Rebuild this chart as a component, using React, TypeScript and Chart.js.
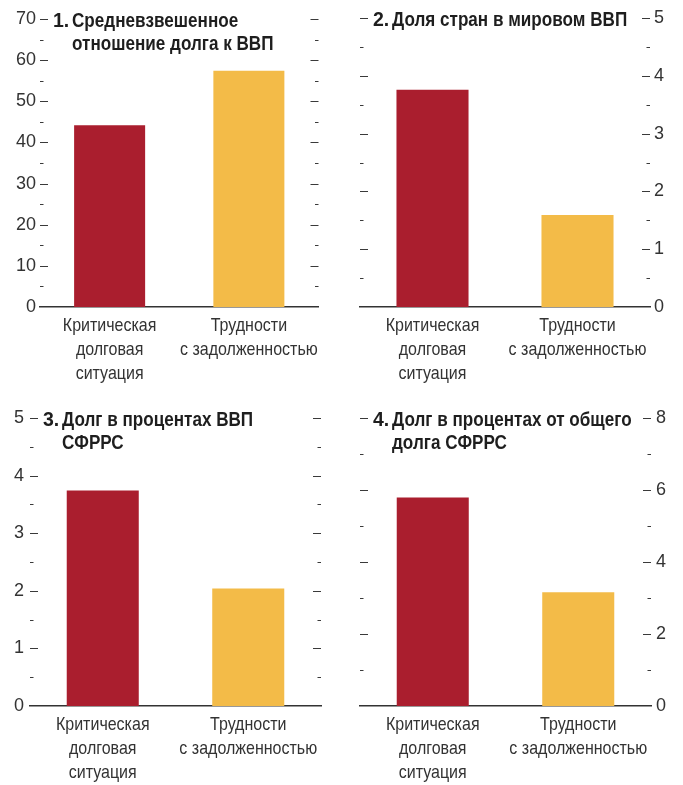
import { useEffect, useRef } from 'react';
import { Chart, registerables } from 'chart.js';

Chart.register(...registerables);

// Category labels (multi-line) shared by all four panels
const categories: string[][] = [
  ['Критическая', 'долговая', 'ситуация'],
  ['Трудности', 'с задолженностью'],
];

// Panel values
const weightedDebtToGdp = [44.2, 57.4];
const shareOfWorldGdp = [3.76, 1.59];
const debtPctOfGdp = [3.74, 2.04];
const debtPctOfTotal = [5.79, 3.16];

// Panel titles: number prefix + text lines
const title1 = ['1.', 'Средневзвешенное', 'отношение долга к ВВП'];
const title2 = ['2.', 'Доля стран в мировом ВВП'];
const title3 = ['3.', 'Долг в процентах ВВП', 'СФРРС'];
const title4 = ['4.', 'Долг в процентах от общего', 'долга СФРРС'];

// Axis ranges: [max, major step, minor step]
const axis1 = [70, 10, 5];
const axis2 = [5, 1, 0.5];
const axis3 = [5, 1, 0.5];
const axis4 = [8, 2, 1];

const barColors = ['#AA1E2E', '#F3BB48'];
const FONT = "'Liberation Sans', Arial, sans-serif";
const INK = '#333333';
const TITLE_K = 0.877; // horizontal condensing of bold titles
const LABEL_K = 0.865; // horizontal condensing of category labels

type Panel = {
  title: string[];
  values: number[];
  axis: number[];
  labelSide: 'left' | 'right';
  labelPad: number;
  box: { x: number; y: number; w: number; h: number };
  area: { left: number; right: number; top: number; bottom: number };
  catPct: number;
};

const panels: Panel[] = [
  {
    title: title1, values: weightedDebtToGdp, axis: axis1, labelSide: 'left', labelPad: 4,
    box: { x: 0, y: 0, w: 341, h: 392 },
    area: { left: 40, right: 321, top: 19, bottom: 307 },
    catPct: 0.51,
  },
  {
    title: title2, values: shareOfWorldGdp, axis: axis2, labelSide: 'right', labelPad: 4,
    box: { x: 341, y: 0, w: 342, h: 392 },
    area: { left: 19, right: 309, top: 18, bottom: 307 },
    catPct: 0.497,
  },
  {
    title: title3, values: debtPctOfGdp, axis: axis3, labelSide: 'left', labelPad: 6,
    box: { x: 0, y: 392, w: 341, h: 393 },
    area: { left: 30, right: 321, top: 26, bottom: 314 },
    catPct: 0.495,
  },
  {
    title: title4, values: debtPctOfTotal, axis: axis4, labelSide: 'right', labelPad: 5,
    box: { x: 341, y: 392, w: 342, h: 393 },
    area: { left: 19, right: 310, top: 26, bottom: 314 },
    catPct: 0.495,
  },
];

// Condensed-type look: text that is not a plain number is squeezed horizontally
// around its anchor point, so alignment is preserved.
function condenseText(ctx: CanvasRenderingContext2D) {
  const base = ctx.fillText.bind(ctx);
  (ctx as any).fillText = (text: string, x: number, y: number, maxWidth?: number) => {
    const s = String(text);
    let k = 1;
    if (!/^[\d.,\s-]*$/.test(s)) k = /bold/.test(ctx.font) ? TITLE_K : LABEL_K;
    if (k === 1) {
      if (maxWidth === undefined) base(s, x, y);
      else base(s, x, y, maxWidth);
      return;
    }
    ctx.save();
    ctx.translate(x, y);
    ctx.scale(k, 1);
    base(s, 0, 0);
    ctx.restore();
  };
}

// Draws the short tick dashes on both inner edges and the bold panel title
const panelDecor = {
  id: 'panelDecor',
  afterDraw(chart: any, _args: any, opts: any) {
    const { ctx, chartArea } = chart;
    const y = chart.scales.y;
    const [max, major, minor] = opts.axis as number[];
    ctx.save();
    ctx.strokeStyle = '#3a3a3a';
    ctx.lineWidth = 1.2;
    for (let v = minor; v <= max + 1e-9; v += minor) {
      const isMajor = Math.abs(v / major - Math.round(v / major)) < 1e-6;
      const len = isMajor ? 8 : 3.5;
      const py = Math.round(y.getPixelForValue(v)) + 0.5;
      ctx.beginPath();
      ctx.moveTo(chartArea.left, py);
      ctx.lineTo(chartArea.left + len, py);
      ctx.moveTo(chartArea.right - len, py);
      ctx.lineTo(chartArea.right, py);
      ctx.stroke();
    }
    const [num, ...lines] = opts.title as string[];
    ctx.font = `bold 19.5px ${FONT}`;
    ctx.fillStyle = '#1e1e1e';
    ctx.textBaseline = 'alphabetic';
    ctx.textAlign = 'left';
    const x0 = chartArea.left + 13;
    const indent = ctx.measureText(num + ' ').width * TITLE_K;
    const base = chartArea.top + 7.5;
    ctx.fillText(num, x0, base);
    lines.forEach((line, i) => {
      ctx.fillText(line, x0 + indent, base + i * 23.5);
    });
    ctx.restore();
  },
};

function PanelChart({ panel }: { panel: Panel }) {
  const ref = useRef<HTMLCanvasElement>(null);
  useEffect(() => {
    if (!ref.current) return;
    const ctx = ref.current.getContext('2d');
    if (!ctx) return;
    condenseText(ctx);
    const { box, area, axis, labelSide } = panel;
    const leftLabels = labelSide === 'left';
    const chart = new Chart(ctx, {
      type: 'bar',
      data: {
        labels: categories,
        datasets: [
          {
            data: panel.values,
            backgroundColor: barColors,
            barPercentage: 1,
            categoryPercentage: panel.catPct,
          },
        ],
      },
      options: {
        responsive: false,
        maintainAspectRatio: false,
        animation: false,
        events: [],
        layout: {
          padding: {
            top: area.top,
            bottom: 0,
            left: leftLabels ? 0 : area.left,
            right: leftLabels ? box.w - area.right : 0,
          },
        },
        plugins: {
          legend: { display: false },
          tooltip: { enabled: false },
          panelDecor: { axis, title: panel.title },
        } as any,
        scales: {
          x: {
            type: 'category',
            offset: true,
            grid: { display: false, drawTicks: false },
            border: { display: true, color: '#333333', width: 1.6 },
            ticks: {
              color: INK,
              font: { family: FONT, size: 18.5, lineHeight: 1.28 },
              padding: 7.5,
              maxRotation: 0,
              autoSkip: false,
            },
            afterFit: (s: any) => {
              s.height = box.h - area.bottom;
            },
          },
          y: {
            position: labelSide,
            min: 0,
            max: axis[0],
            grid: { display: false, drawTicks: false },
            border: { display: false },
            ticks: {
              stepSize: axis[1],
              color: INK,
              font: { family: FONT, size: 18 },
              padding: panel.labelPad,
            },
            afterFit: (s: any) => {
              s.width = leftLabels ? area.left : box.w - area.right;
            },
          },
        },
      },
      plugins: [panelDecor],
    });
    return () => chart.destroy();
  }, [panel]);
  return (
    <canvas
      ref={ref}
      width={panel.box.w}
      height={panel.box.h}
      style={{
        position: 'absolute',
        left: panel.box.x,
        top: panel.box.y,
        width: panel.box.w,
        height: panel.box.h,
      }}
    />
  );
}

export default function App() {
  return (
    <div
      style={{
        position: 'absolute',
        left: 0,
        top: 0,
        width: 683,
        height: 785,
        background: '#ffffff',
      }}
    >
      {panels.map((p, i) => (
        <PanelChart key={i} panel={p} />
      ))}
    </div>
  );
}
